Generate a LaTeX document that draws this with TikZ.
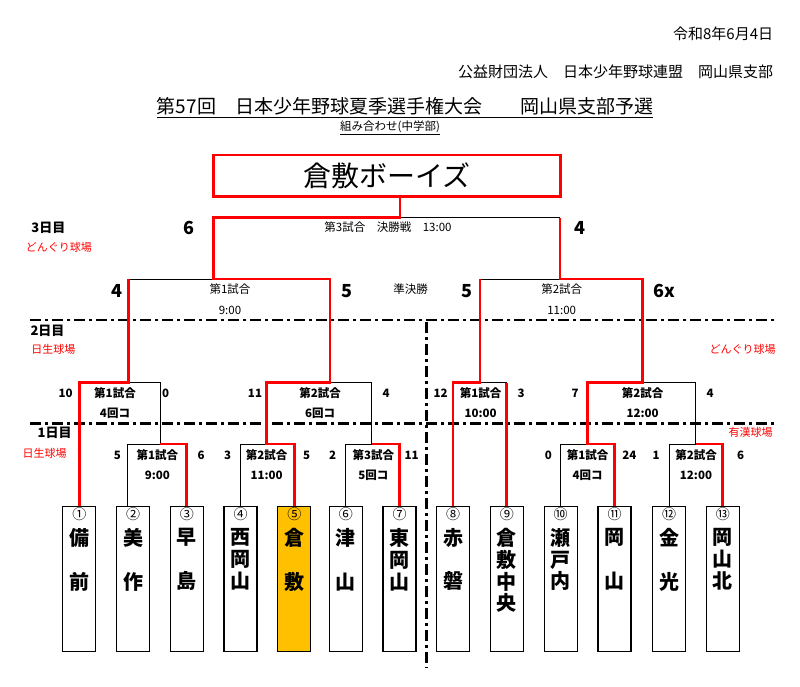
\documentclass[tikz,border=0pt]{standalone}
\usepackage{fontspec}
\setmainfont{Noto Sans CJK JP}
\usetikzlibrary{positioning,calc}
\definecolor{redline}{HTML}{FF0000}
\definecolor{gold}{HTML}{FFC000}

\begin{document}
\begin{tikzpicture}[x=1pt,y=-1pt,
  win/.style={draw=redline,line width=2.9pt},
  lose/.style={draw=black,line width=0.9pt},
  sepline/.style={line width=2.8pt,dash pattern=on 11pt off 4pt on 3pt off 4pt},
  team/.style={draw,line width=1.1pt,minimum width=33pt,minimum height=145pt,inner sep=0pt,anchor=north},
  num/.style={font=\fontsize{14}{14}\selectfont,inner sep=0pt},
  tname/.style={font=\fontsize{20}{21.7}\selectfont\bfseries,align=center,inner sep=0pt,anchor=north},
  big/.style={font=\fontsize{18}{18}\selectfont\bfseries,inner sep=0pt},
  small/.style={font=\fontsize{11.5}{12}\selectfont\bfseries,inner sep=0pt},
  game/.style={font=\fontsize{11.5}{12}\selectfont,inner sep=0pt},
  day/.style={font=\fontsize{13}{13}\selectfont\bfseries,inner sep=0pt},
  venue/.style={font=\fontsize{11}{11}\selectfont,text=redline,inner sep=0pt}]
\useasboundingbox (0,0) rectangle (800,687);
\fill[white] (0,0) rectangle (800,687);

% header
\node[anchor=east,font=\fontsize{15}{15}\selectfont,inner sep=0pt] (date) at (773.3,34) {令和8年6月4日};
\node[anchor=east,font=\fontsize{15}{15}\selectfont,inner sep=0pt] (org) at (773.3,71.7) {公益財団法人　日本少年野球連盟　岡山県支部};
\node[anchor=base,font=\fontsize{19}{19}\selectfont,inner sep=0pt] (title) at (405,113.9) {\underline{第57回　日本少年野球夏季選手権大会　　岡山県支部予選}};
\node[anchor=base,font=\fontsize{11.5}{11.5}\selectfont,inner sep=0pt] (sub) at (390,130.9) {\underline{組み合わせ(中学部)}};

% day separators
\draw[sepline] (30,320) -- (776.7,320);
\draw[sepline] (30,423.3) -- (776.7,423.3);
\draw[sepline] (426.3,322) -- (426.3,668);

% champion
\node[draw=redline,line width=2.9pt,minimum width=347pt,minimum height=41.7pt,inner sep=0pt,
  font=\fontsize{28}{28}\selectfont] (champ) at (387,175.9) {倉敷ボーイズ};

% teams
\foreach \x/\n/\nm/\f [count=\i] in {
  79.3/①/{備\\[21.7pt]前}/white, 133/②/{美\\[21.7pt]作}/white,
  186.9/③/{早\\[21.7pt]島}/white, 240.5/④/{西\\岡\\山}/white,
  294.3/⑤/{倉\\[21.7pt]敷}/gold, 345.8/⑥/{津\\[21.7pt]山}/white,
  399.5/⑦/{東\\岡\\山}/white, 453/⑧/{赤\\[21.7pt]磐}/white,
  506.9/⑨/{倉\\敷\\中\\央}/white, 560.7/⑩/{瀬\\戸\\内}/white,
  614.5/⑪/{岡\\[21.7pt]山}/white, 669/⑫/{金\\[21.7pt]光}/white,
  722.9/⑬/{岡\\山\\北}/white}{
  \node[team,fill=\f] (t\i) at (\x,506) {};
  \node[num] (n\i) at (\x,514.5) {\n};
  \node[tname] (c\i) at (\x,528.3) {\nm};
}

% junctions
\coordinate (m11) at (160,444);
\coordinate (m12) at (266.7,444);
\coordinate (m13) at (371.7,444);
\coordinate (m14) at (587.3,444);
\coordinate (m15) at (695.7,444);
\coordinate (m21) at (128.3,382.7);
\coordinate (m22) at (330,382.7);
\coordinate (m23) at (480,382.7);
\coordinate (m24) at (642.7,382.7);
\coordinate (s1) at (213.3,279);
\coordinate (s2) at (560,279);
\coordinate (fin) at (400,217.7);

% losing sides
\draw[lose] ([xshift=-5.3pt]t2.north) |- (m11);
\draw[lose] (t4.north) |- (m12);
\draw[lose] (t6.north) |- (m13);
\draw[lose] (t10.north) |- (m14);
\draw[lose] (t12.north) |- (m15);
\draw[lose] (m11) -- (m11 |- m21) -- (m21);
\draw[lose] (m13) -- (m13 |- m22) -- (m22);
\draw[lose] (m15) -- (m15 |- m24) -- (m24);
\draw[lose] (t9.north |- m23) -- (m23);
\draw[lose] (m21 |- s1) -- (s1);
\draw[lose] (m23 |- s2) -- (s2);
\draw[lose] (s2 |- fin) -- (fin);

% winning paths
\draw[win] (t1.north) |- (m21) -- (m21 |- s1);
\draw[win] (t3.north) |- (m11);
\draw[win] (t5.north) |- (m12) -- (m12 |- m22) -- (m22) -- (m22 |- s1) -- (s1) -- (s1 |- fin) -- (fin) -- (fin |- champ.south);
\draw[win] (t7.north) |- (m13);
\draw[win] (t8.north) |- (m23) -- (m23 |- s2);
\draw[win] (t9.north) -- (t9.north |- m23);
\draw[win] (t11.north) |- (m14) -- (m14 |- m24) -- (m24) -- (m24 |- s2) -- (s2) -- (s2 |- fin);
\draw[win] (t13.north) |- (m15);

% days and grounds
\node[day] (d3) at (48.3,228.3) {3日目};
\node[day] (d2) at (47.5,330.7) {2日目};
\node[day] (d1) at (54.7,433.3) {1日目};
\node[venue] (v3) at (58.8,247.3) {どんぐり球場};
\node[venue] (v2a) at (53.3,349.3) {日生球場};
\node[venue] (v2b) at (742.5,349.3) {どんぐり球場};
\node[venue] (v1a) at (44.7,453.3) {日生球場};
\node[venue] (v1b) at (750.5,432.3) {有漢球場};

% final and semifinals
\foreach \x/\y/\t [count=\i] in {189.3/228.3/6, 580/228.3/4, 116.7/290.7/4,
  346.7/290.7/5, 466.7/290.7/5, 664.3/290.7/6x}
  \node[big] (b\i) at (\x,\y) {\t};
\foreach \x/\y/\t [count=\i] in {388/227.3/第3試合　決勝戦　13:00, 230/289.3/第1試合,
  230/310/9:00, 410.7/289.3/準決勝, 561.7/289.3/第2試合, 561.7/310/11:00}
  \node[game] (g\i) at (\x,\y) {\t};

% day 2 and day 1 games
\foreach \x/\y/\t [count=\i] in {
  65.7/393.3/10, 115/393.3/第1試合, 165.7/393.3/0, 115/413.3/4回コ,
  255/393.3/11, 320/393.3/第2試合, 386/393.3/4, 320/413.3/6回コ,
  440.7/393.3/12, 480.7/393.3/第1試合, 521/393.3/3, 480.7/413.3/10:00,
  575/393.3/7, 642.7/393.3/第2試合, 710/393.3/4, 642.7/413.3/12:00,
  117.3/455/5, 157.3/455/第1試合, 201/455/6, 157.3/475.7/9:00,
  227.7/455/3, 266.7/455/第2試合, 306.7/455/5, 266.7/475.7/11:00,
  332.7/455/2, 373.3/455/第3試合, 411.7/455/11, 373.3/475.7/5回コ,
  548.3/455/0, 587.7/455/第1試合, 629.3/455/24, 587.7/475.7/4回コ,
  656/455/1, 696/455/第2試合, 740.7/455/6, 696/475.7/12:00}
  \node[small] (k\i) at (\x,\y) {\t};
\end{tikzpicture}
\end{document}
